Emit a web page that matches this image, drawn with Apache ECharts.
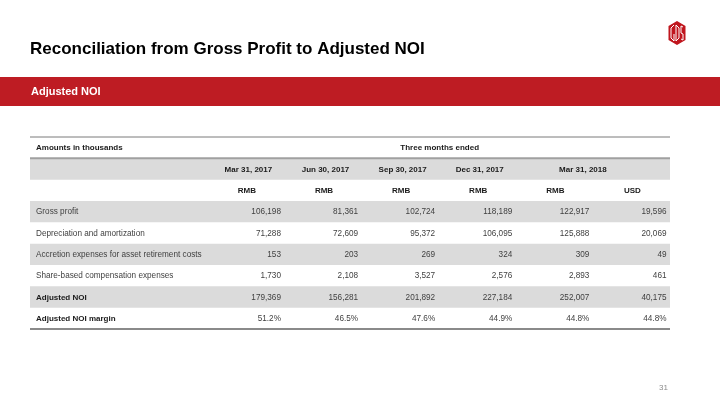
<!DOCTYPE html>
<html>
<head>
<meta charset="utf-8">
<script src="https://cdn.jsdelivr.net/npm/echarts@6/dist/echarts.min.js"></script>
<style>html,body{margin:0;padding:0;background:#fff}#c{width:720px;height:405px}</style>
</head>
<body>
<div id="c"></div>
<script>
// ---- data ----
const pageTitle = 'Reconciliation from Gross Profit to Adjusted NOI';
const sectionTitle = 'Adjusted NOI';
const unitLabel = 'Amounts in thousands';
const periodLabel = 'Three months ended';
const periods = ['Mar 31, 2017', 'Jun 30, 2017', 'Sep 30, 2017', 'Dec 31, 2017', 'Mar 31, 2018'];
const periodSpans = [1, 1, 1, 1, 2];
const currencies = ['RMB', 'RMB', 'RMB', 'RMB', 'RMB', 'USD'];
const rowLabels = ['Gross profit', 'Depreciation and amortization', 'Accretion expenses for asset retirement costs', 'Share-based compensation expenses', 'Adjusted NOI', 'Adjusted NOI margin'];
const grossProfit = [106198, 81361, 102724, 118189, 122917, 19596];
const depreciation = [71288, 72609, 95372, 106095, 125888, 20069];
const accretion = [153, 203, 269, 324, 309, 49];
const shareBased = [1730, 2108, 3527, 2576, 2893, 461];
const adjustedNOI = [179369, 156281, 201892, 227184, 252007, 40175];
const adjustedNOIMargin = [51.2, 46.5, 47.6, 44.9, 44.8, 44.8];
const pageNumber = '31';

// ---- build table ----
const FONT = '"Liberation Sans", Arial, sans-serif';
const LABEL_START = -2.3, COL_END = 6;
const bodyRows = [grossProfit, depreciation, accretion, shareBased, adjustedNOI, adjustedNOIMargin];
const boldLabelRows = [4, 5];
const HEADER_ROWS = 3;
const rowCount = HEADER_ROWS + bodyRows.length;
const rowCats = Array.from({length: rowCount}, (_, i) => 'r' + i);

function fmt(v, isPct) {
  return isPct ? v.toFixed(1) + '%' : v.toLocaleString('en-US');
}

const cells = [];
cells.push({col: LABEL_START, span: -LABEL_START, row: 0, text: unitLabel, align: 'left', bold: true});
cells.push({col: 0, span: COL_END, row: 0, text: periodLabel, align: 'center', bold: true, dx: 1});
let c0 = 0;
periods.forEach((p, i) => {
  cells.push({col: c0, span: periodSpans[i], row: 1, text: p, align: 'center', bold: true, dx: periodSpans[i] > 1 ? -10 : 2.5});
  c0 += periodSpans[i];
});
currencies.forEach((cur, i) => cells.push({col: i, span: 1, row: 2, text: cur, align: 'center', bold: true, dx: 1}));
bodyRows.forEach((vals, r) => {
  const row = HEADER_ROWS + r;
  const bold = boldLabelRows.indexOf(r) >= 0;
  cells.push({col: LABEL_START, span: -LABEL_START, row, text: rowLabels[r], align: 'left', bold});
  vals.forEach((v, i) => cells.push({col: i, span: 1, row, text: fmt(v, vals === adjustedNOIMargin), align: 'right', bold: false}));
});

const shadedRows = [];
for (let r = 1; r < rowCount; r += 2) shadedRows.push(r);
const rules = [
  {row: 0, edge: -1, w: 1, color: '#7a7a7a'},
  {row: 1, edge: -1, w: 2, color: '#a0a0a0'},
  {row: rowCount - 1, edge: 1, w: 2, color: '#8a8a8a'}
];

function bgRender(params, api) {
  const row = api.value(1);
  const a = api.coord([LABEL_START, row]);
  const b = api.coord([COL_END, row]);
  const h = api.size([0, 1])[1];
  return {type: 'rect', shape: {x: a[0], y: a[1] - h / 2, width: b[0] - a[0], height: h}, style: {fill: '#DBDBDB'}};
}
function ruleRender(params, api) {
  const r = rules[params.dataIndex];
  const a = api.coord([LABEL_START, r.row]);
  const b = api.coord([COL_END, r.row]);
  const h = api.size([0, 1])[1];
  const y = a[1] + r.edge * h / 2;
  return {type: 'line', shape: {x1: a[0], y1: y, x2: b[0], y2: y}, style: {stroke: r.color, lineWidth: r.w}};
}
function cellRender(params, api) {
  const c = cells[params.dataIndex];
  const a = api.coord([c.col, c.row]);
  const b = api.coord([c.col + c.span, c.row]);
  let x;
  if (c.align === 'left') x = a[0] + 6;
  else if (c.align === 'right') x = b[0] - 3.5;
  else x = (a[0] + b[0]) / 2 + (c.dx || 0);
  return {
    type: 'text',
    style: {
      x: x, y: a[1] + 0.5, text: c.text, align: c.align, verticalAlign: 'middle',
      fontFamily: FONT, fontSize: c.bold ? 8 : 8.2, fontWeight: c.bold ? 'bold' : 'normal',
      fill: c.bold ? '#1a1a1a' : '#3f3f3f'
    }
  };
}

const chart = echarts.init(document.getElementById('c'), null, {renderer: 'canvas'});
chart.setOption({
  animation: false,
  backgroundColor: '#ffffff',
  title: {
    text: pageTitle, left: 30, top: 41, padding: 0,
    textStyle: {fontFamily: FONT, fontSize: 17, fontWeight: 'bold', color: '#000000'}
  },
  grid: {left: 30, right: 50, top: 137, height: 192},
  xAxis: {type: 'value', min: LABEL_START, max: COL_END, show: false},
  yAxis: {type: 'category', data: rowCats, inverse: true, show: false},
  graphic: [
    {type: 'rect', left: 0, top: 77, shape: {width: 720, height: 29}, style: {fill: '#BE1C23'}},
    {type: 'text', left: 31, top: 86, style: {text: sectionTitle, fill: '#ffffff', fontFamily: FONT, fontSize: 11, fontWeight: 'bold'}},
    {type: 'text', right: 52, top: 384, style: {text: pageNumber, fill: '#8c8c8c', fontFamily: FONT, fontSize: 8}},
    {type: 'group', x: 677, y: 33, children: [
      {type: 'polygon', shape: {points: [[0, -12], [8.5, -7], [8.5, 7], [0, 12], [-8.5, 7], [-8.5, -7]]}, style: {fill: '#C0161E'}},
      {type: 'polyline', shape: {points: [[-3, -8], [-6, -5], [-6, 5], [-3, 8], [-3, 1]]}, style: {stroke: '#ffffff', lineWidth: 1, fill: null}},
      {type: 'polyline', shape: {points: [[-1, -8], [2, -5], [2, 5], [-1, 8], [-1, -8]]}, style: {stroke: '#ffffff', lineWidth: 1, fill: null}},
      {type: 'polyline', shape: {points: [[6, -6], [4, -7], [4, 0], [6, 1], [6, 7], [4, 6]]}, style: {stroke: '#ffffff', lineWidth: 1, fill: null}}
    ]}
  ],
  series: [
    {type: 'custom', renderItem: bgRender, clip: false, silent: true, data: shadedRows.map(r => [0, r])},
    {type: 'custom', renderItem: ruleRender, clip: false, silent: true, data: rules.map(r => [0, r.row])},
    {type: 'custom', renderItem: cellRender, clip: false, silent: true, data: cells.map(c => [c.col, c.row])}
  ]
});
</script>
</body>
</html>
